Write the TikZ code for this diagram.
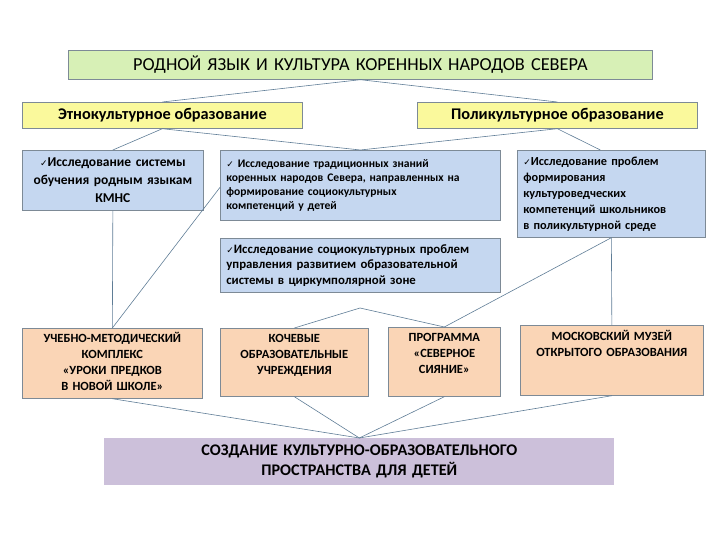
\documentclass[tikz,border=0pt]{standalone}
\usepackage{fontspec}
\setmainfont{Carlito}
\newfontfamily\symfont{DejaVu Sans}

\definecolor{titlegreen}{RGB}{215,240,182}
\definecolor{headyellow}{RGB}{250,249,156}
\definecolor{resblue}{RGB}{197,215,240}
\definecolor{projorange}{RGB}{250,213,182}
\definecolor{goalpurple}{RGB}{204,192,218}
\definecolor{boxline}{RGB}{125,138,150}
\definecolor{linkline}{RGB}{95,125,150}

\newcommand{\chk}{{\symfont\fontsize{9}{9}\selectfont ✓}}

\tikzset{
  box/.style={draw=boxline, line width=0.7pt, anchor=north west, inner xsep=5pt, inner ysep=3pt},
  head/.style={box, fill=headyellow, minimum width=280pt, minimum height=26pt,
    font=\fontsize{16.3}{18}\selectfont\bfseries},
  res/.style={box, fill=resblue, align=left, font=\fontsize{12.3}{16}\selectfont\bfseries},
  proj/.style={box, fill=projorange, align=center, text height=11pt, text depth=#1,
    font=\fontsize{12.5}{16}\selectfont\bfseries},
  link/.style={draw=linkline, line width=0.6pt}
}

\begin{document}
\begin{tikzpicture}[x=1pt, y=-1pt]
\useasboundingbox (0,0) rectangle (720,540);

% top level
\node[box, fill=titlegreen, minimum width=584pt, minimum height=29pt, text width=574pt, align=center,
  font=\fontsize{18.3}{20}\selectfont] (ttl) at (68,50) {РОДНОЙ ЯЗЫК И КУЛЬТУРА КОРЕННЫХ НАРОДОВ СЕВЕРА};
\node[head] (etno) at (22,102) {Этнокультурное образование};
\node[head] (poli) at (417,102) {Поликультурное образование};

% research directions
\node[res, align=center, minimum width=181pt, minimum height=60pt, text width=171pt,
  font=\fontsize{13.5}{18}\selectfont\bfseries] (rodn) at (22,150)
  {\chk Исследование системы\\ обучения родным языкам\\ КМНС};
\node[res, minimum width=280pt, minimum height=70pt, text width=268pt, inner xsep=6pt,
  font=\fontsize{11.6}{14}\selectfont\bfseries] (trad) at (220,150)
  {\chk\ Исследование традиционных знаний\\ коренных народов Севера, направленных на\\ формирование социокультурных\\ компетенций у детей};
\node[res, minimum width=188pt, minimum height=87pt, text width=176pt, inner xsep=6pt] (kult) at (517,150)
  {\chk Исследование проблем\\ формирования\\ культуроведческих\\ компетенций школьников\\ в поликультурной среде};
\node[res, minimum width=280pt, minimum height=54pt, text width=268pt, inner xsep=6pt,
  font=\fontsize{12.8}{15.5}\selectfont\bfseries] (zona) at (220,238)
  {\chk Исследование социокультурных проблем\\ управления развитием образовательной\\ системы в циркумполярной зоне};

% projects
\node[proj=53pt, minimum width=180pt, minimum height=70pt, text width=170pt] (ukit) at (22,328)
  {УЧЕБНО-МЕТОДИЧЕСКИЙ\\ КОМПЛЕКС\\ «УРОКИ ПРЕДКОВ\\ В НОВОЙ ШКОЛЕ»};
\node[proj=51pt, minimum width=148pt, minimum height=68pt, text width=138pt] (koch) at (220,328)
  {КОЧЕВЫЕ\\ ОБРАЗОВАТЕЛЬНЫЕ\\ УЧРЕЖДЕНИЯ};
\node[proj=52pt, minimum width=112pt, minimum height=69pt, text width=102pt] (siya) at (388,327)
  {ПРОГРАММА\\ «СЕВЕРНОЕ\\ СИЯНИЕ»};
\node[proj=52pt, minimum width=183pt, minimum height=70pt, text width=173pt, text height=12pt] (muze) at (520,325)
  {МОСКОВСКИЙ МУЗЕЙ\\ ОТКРЫТОГО ОБРАЗОВАНИЯ};

% result
\node[box, draw=none, fill=goalpurple, minimum width=510pt, minimum height=47pt, text width=500pt,
  align=center, font=\fontsize{16.2}{20}\selectfont\bfseries] (prost) at (104,438)
  {СОЗДАНИЕ КУЛЬТУРНО-ОБРАЗОВАТЕЛЬНОГО\\ ПРОСТРАНСТВА ДЛЯ ДЕТЕЙ};

\coordinate (mid) at (360,308);

% connectors
\draw[link] (ttl.south) -- (etno.north);
\draw[link] (ttl.south) -- (poli.north);
\draw[link] (etno.south) -- (rodn.north);
\draw[link] (etno.south) -- (trad.north);
\draw[link] (poli.south) -- (trad.north);
\draw[link] (poli.south) -- ([xshift=-11pt]kult.north);
\draw[link] (rodn.south) -- (ukit.north);
\draw[link] ([yshift=-2pt]trad.west) -- (ukit.north);
\draw[link] (koch.north) -- (mid) -- (siya.north);
\draw[link] (kult.south) -- (siya.north);
\draw[link] (kult.south) -- (muze.north);
\foreach \p in {ukit, koch, siya, muze}
  \draw[link] (\p.south) -- (prost.north);
\end{tikzpicture}
\end{document}
